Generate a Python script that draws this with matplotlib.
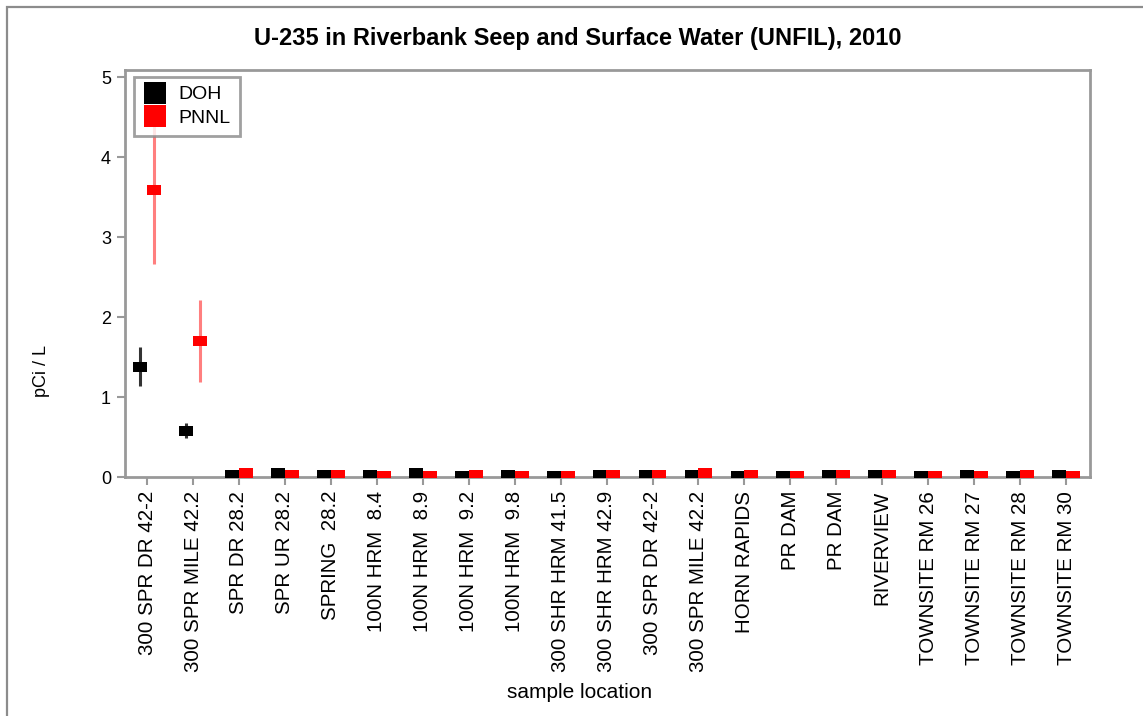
import matplotlib
matplotlib.use("Agg")
import matplotlib.pyplot as plt
from matplotlib.patches import Rectangle
from matplotlib.lines import Line2D
import numpy as np

plt.rcParams['font.family'] = ['Liberation Sans', 'DejaVu Sans']

categories = ["300 SPR DR 42-2", "300 SPR MILE 42.2", "SPR DR 28.2", "SPR UR 28.2",
              "SPRING  28.2", "100N HRM  8.4", "100N HRM  8.9", "100N HRM  9.2",
              "100N HRM  9.8", "300 SHR HRM 41.5", "300 SHR HRM 42.9", "300 SPR DR 42-2",
              "300 SPR MILE 42.2", "HORN RAPIDS", "PR DAM", "PR DAM", "RIVERVIEW",
              "TOWNSITE RM 26", "TOWNSITE RM 27", "TOWNSITE RM 28", "TOWNSITE RM 30"]
doh_values = [1.38, 0.58, 0.03, 0.05, 0.03, 0.03, 0.05, 0.01, 0.03, 0.01, 0.03,
              0.03, 0.03, 0.01, 0.01, 0.03, 0.03, 0.01, 0.03, 0.01, 0.03]
doh_errors = [0.245, 0.09, 0, 0, 0, 0, 0, 0, 0, 0, 0,
              0, 0, 0, 0, 0, 0, 0, 0, 0, 0]
pnnl_values = [3.59, 1.70, 0.05, 0.03, 0.03, 0.01, 0.01, 0.03, 0.01, 0.01, 0.03,
               0.03, 0.05, 0.03, 0.01, 0.03, 0.03, 0.01, 0.01, 0.03, 0.01]
pnnl_errors = [0.93, 0.51, 0, 0, 0, 0, 0, 0, 0, 0, 0,
               0, 0, 0, 0, 0, 0, 0, 0, 0, 0]
y_ticks = [0, 1, 2, 3, 4, 5]

W, H = 1143, 716
fig = plt.figure(figsize=(W / 100, H / 100), dpi=100)
ax = fig.add_axes([125 / W, (H - 477) / H, (1090 - 125) / W, (477 - 70) / H])

# outer frame (top and left edges visible)
fig.add_artist(Rectangle((7 / W, -0.05), 1.2, (H - 7) / H + 0.05, transform=fig.transFigure,
                         fill=False, edgecolor='#8c8c8c', linewidth=1.6))

x = np.arange(len(categories))
off = 0.15
rect_marker = [(-1, -0.65), (1, -0.65), (1, 0.65), (-1, 0.65), (-1, -0.65)]
ms = 14 * 0.72

doh_err = np.array(doh_errors)
pnnl_err = np.array(pnnl_errors)
mask_d = doh_err > 0
mask_p = pnnl_err > 0
ax.errorbar(x[mask_d] - off, np.array(doh_values)[mask_d], yerr=doh_err[mask_d], fmt='none',
            ecolor='#333333', elinewidth=2.2, capsize=0, zorder=2)
ax.errorbar(x[mask_p] + off, np.array(pnnl_values)[mask_p], yerr=pnnl_err[mask_p], fmt='none',
            ecolor='#ff7f7f', elinewidth=2.2, capsize=0, zorder=2)
ax.plot(x - off, doh_values, linestyle='none', marker=rect_marker, markersize=ms,
        color='black', markeredgewidth=0, zorder=3)
ax.plot(x + off, pnnl_values, linestyle='none', marker=rect_marker, markersize=ms,
        color='#ff0000', markeredgewidth=0, zorder=3)

ax.set_xlim(-0.48, 20.52)
ax.set_ylim(0, 5.09)
ax.set_yticks(y_ticks)
ax.set_yticklabels([str(v) for v in y_ticks], fontsize=13)
ax.set_xticks(x)
ax.set_xticklabels(categories, rotation=90, fontsize=14.8)
for s in ax.spines.values():
    s.set_color('#999999')
    s.set_linewidth(2)
ax.tick_params(axis='both', direction='out', length=6, width=1.5, color='#999999',
               labelcolor='black')
ax.tick_params(axis='y', pad=4)
ax.tick_params(axis='x', pad=4)

ax.set_xlabel("sample location", fontsize=15, va='center')
ax.xaxis.set_label_coords((580 - 125) / 965, (477 - 693) / 407)
ax.set_ylabel("pCi / L", fontsize=13)
ax.yaxis.set_label_coords((50 - 125) / 965, (477 - 371) / 407)

fig.text(578 / W, 1 - 38 / H, "U-235 in Riverbank Seep and Surface Water (UNFIL), 2010",
         ha='center', va='center', fontsize=17, fontweight='bold')

# legend
handles = [Line2D([], [], linestyle='none', marker='s', markersize=16, color='black', markeredgewidth=0),
           Line2D([], [], linestyle='none', marker='s', markersize=16, color='#ff0000', markeredgewidth=0)]
leg = ax.legend(handles, ["DOH", "PNNL"], loc='upper left',
                bbox_to_anchor=((134 - 125) / 965, (477 - 77) / 407),
                fontsize=14, frameon=True, fancybox=False, borderpad=0.45, labelspacing=0.3,
                handletextpad=0.6, handlelength=1.25, borderaxespad=0)
leg.get_frame().set_edgecolor('#888888')
leg.get_frame().set_linewidth(2)
leg.set_zorder(5)

fig.savefig("out.png", dpi=100)
